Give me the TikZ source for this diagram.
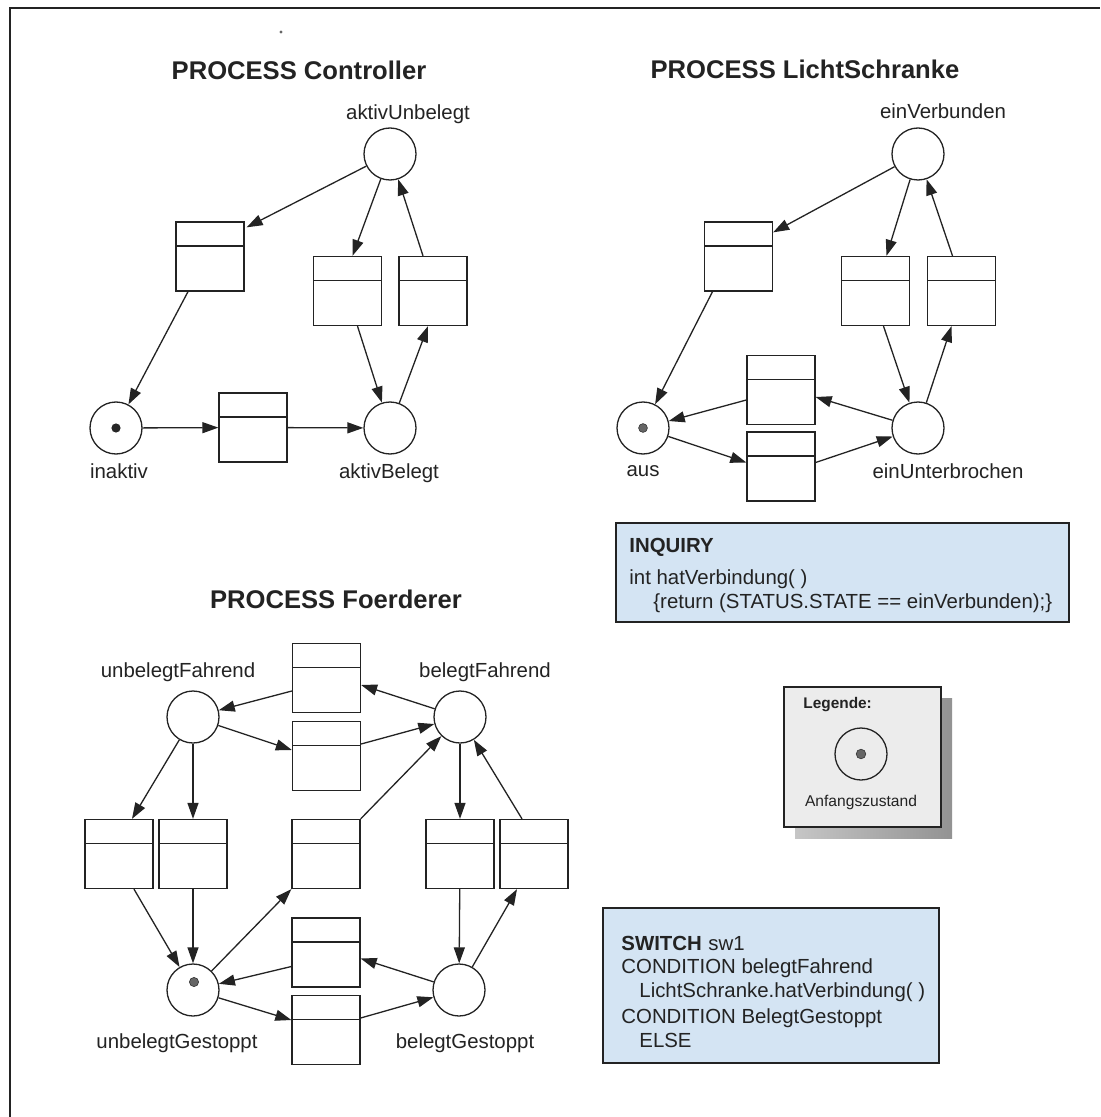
\documentclass[tikz,border=0pt]{standalone}
\usepackage{fontspec}
\setmainfont{Liberation Sans}
\usetikzlibrary{arrows.meta,calc}
\definecolor{ink}{RGB}{35,35,35}
\definecolor{boxblue}{RGB}{212,228,243}
\definecolor{legfill}{RGB}{236,236,236}
\begin{document}
\begin{tikzpicture}[x=0.5pt,y=-0.5pt,
  place/.style={circle,draw=ink,fill=white,line width=0.65pt,minimum size=26pt,inner sep=0pt},
  trans/.style={draw=ink,fill=white,line width=0.65pt,minimum width=34pt,minimum height=34.5pt,inner sep=0pt,
    path picture={\draw[ink,line width=0.65pt] ([yshift=-12pt]path picture bounding box.north west) -- ([yshift=-12pt]path picture bounding box.north east);}},
  arc/.style={draw=ink,line width=0.65pt,-{Triangle[length=8pt,width=5.5pt]}},
  lbl/.style={anchor=base,font=\fontsize{10.2}{12}\selectfont,text=ink,inner sep=0pt},
  ttl/.style={anchor=base,font=\fontsize{12.8}{15}\selectfont\bfseries,text=ink,inner sep=0pt},
  txt/.style={anchor=base west,font=\fontsize{10.2}{12}\selectfont,text=ink,inner sep=0pt},
  tokdark/.style={fill=black!85},
  tokgrey/.style={fill=black!60,draw=black!80,line width=0.3pt},
]
\useasboundingbox (0,0) rectangle (1100,1117);
\fill[white] (0,0) rectangle (1100,1117);
\draw[ink,line width=0.8pt] (10,1117) -- (10,8) -- (1100,8);
\fill[black!60] (281,32) circle (0.8pt);

% ---------------- Controller ----------------
\node[ttl] (tC) at (299,80) {PROCESS Controller};
\node[place] (aU) at (390,154) {};
\node[place] (inaktiv) at (116,428) {};
\node[place] (aB) at (390,428) {};
\node[trans] (T1) at (210,256.5) {};
\node[trans] (T2) at (347.5,291) {};
\node[trans] (T3) at (433,291) {};
\node[trans] (T4) at (253,427.5) {};
\node[lbl] (laU) at (408,120) {aktivUnbelegt};
\node[lbl] (lin) at (119,478) {inaktiv};
\node[lbl] (laB) at (389,478) {aktivBelegt};
\fill[tokdark] (inaktiv.center) circle (2.3pt);

\draw[arc] (aU) -- ($(T1.north east)+(2,6)$);
\draw[arc] (aU) -- ($(T2.north)+(5,0)$);
\draw[arc] ($(T3.north)+(-10,0)$) -- (aU);
\draw[arc] ($(T2.south)+(10,0)$) -- (aB);
\draw[arc] (aB) -- ($(T3.south)+(-5,0)$);
\draw[arc] ($(T1.south)+(-22,0)$) -- (inaktiv);
\draw[arc] (inaktiv) -- (T4);
\draw[arc] (T4) -- (aB);

% ---------------- LichtSchranke ----------------
\node[ttl] (tL) at (805,79) {PROCESS LichtSchranke};
\node[place] (eV) at (918,154) {};
\node[place] (aus) at (643,428) {};
\node[place] (eU) at (918,428) {};
\node[trans] (L1) at (738.5,256.5) {};
\node[trans] (L2) at (875.5,291) {};
\node[trans] (L3) at (961.5,291) {};
\node[trans] (L4) at (781,390) {};
\node[trans] (L5) at (781,466.5) {};
\node[lbl] (leV) at (943,119) {einVerbunden};
\node[lbl] (laus) at (643,476) {aus};
\node[lbl] (leU) at (948,478) {einUnterbrochen};
\fill[tokgrey] (aus.center) circle (2.2pt);

\draw[arc] (eV) -- ($(L1.north east)+(0,11)$);
\draw[arc] (eV) -- ($(L2.north)+(11,0)$);
\draw[arc] ($(L3.north)+(-9,0)$) -- (eV);
\draw[arc] ($(L2.south)+(8,0)$) -- (eU);
\draw[arc] (eU) -- ($(L3.south)+(-10,0)$);
\draw[arc] ($(L1.south)+(-26,0)$) -- (aus);
\draw[arc] (eU) -- ($(L4.east)+(0,7)$);
\draw[arc] ($(L4.west)+(0,10)$) -- (aus);
\draw[arc] (aus) -- ($(L5.west)+(0,-4)$);
\draw[arc] ($(L5.east)+(0,-4)$) -- (eU);

% ---------------- INQUIRY ----------------
\node[draw=ink,fill=boxblue,line width=0.65pt,minimum width=226.5pt,minimum height=49.5pt,inner sep=0pt] (inq) at (842.5,572.5) {};
\node[txt,font=\fontsize{10.2}{12}\selectfont\bfseries] (inq1) at (629,552) {INQUIRY};
\node[txt] (inq2) at (629,584) {int hatVerbindung( )};
\node[txt] (inq3) at (653,608) {\{return (STATUS.STATE == einVerbunden);\}};

% ---------------- Legende ----------------
\fill[left color=gray!45,right color=gray!85] (795,698) rectangle (952,838);
\node[draw=ink,fill=legfill,line width=0.65pt,minimum width=78.5pt,minimum height=70pt,inner sep=0pt] (leg) at (862.5,757) {};
\node[anchor=base west,inner sep=0pt,text=ink,font=\fontsize{7.7}{9}\selectfont\bfseries] (legt) at (803,708) {Legende:};
\node[circle,draw=ink,line width=0.65pt,minimum size=26pt,inner sep=0pt] (legc) at (861,754) {};
\fill[tokgrey] (legc.center) circle (2.4pt);
\node[anchor=base,inner sep=0pt,text=ink,font=\fontsize{7.8}{9}\selectfont] (lega) at (861,806) {Anfangszustand};

% ---------------- Foerderer ----------------
\node[ttl] (tF) at (336,608) {PROCESS Foerderer};
\node[place] (uF) at (193,717) {};
\node[place] (bF) at (460,717) {};
\node[place] (uG) at (193,990) {};
\node[place] (bG) at (459,990) {};
\node[trans] (F1) at (326.5,678) {};
\node[trans] (F2) at (326.5,756) {};
\node[trans] (F3) at (119,854) {};
\node[trans] (F4) at (193,854) {};
\node[trans] (F5) at (326,854) {};
\node[trans] (F6) at (460,854) {};
\node[trans] (F7) at (534,854) {};
\node[trans] (F8) at (326,952.5) {};
\node[trans] (F9) at (326,1030) {};
\node[lbl] (luF) at (178,677) {unbelegtFahrend};
\node[lbl] (lbF) at (485,677) {belegtFahrend};
\node[lbl] (luG) at (177,1048) {unbelegtGestoppt};
\node[lbl] (lbG) at (465,1048) {belegtGestoppt};
\fill[tokgrey] ($(uG.center)+(1,-8)$) circle (2.3pt);

\draw[arc] ($(F1.west)+(0,13)$) -- (uF);
\draw[arc] (bF) -- ($(F1.east)+(0,7)$);
\draw[arc] (uF) -- ($(F2.west)+(0,-6)$);
\draw[arc] ($(F2.east)+(0,-12)$) -- (bF);
\draw[arc] (uF) -- ($(F3.north)+(13,0)$);
\draw[arc] (uF) -- (F4);
\draw[arc] ($(F3.south)+(15,0)$) -- (uG);
\draw[arc] (F4) -- (uG);
\draw[arc] (uG) -- (F5.south west);
\draw[arc] (F5.north east) -- (bF);
\draw[arc] (bF) -- (F6);
\draw[arc] ($(F7.north)+(-12,0)$) -- (bF);
\draw[arc] (F6) -- (bG);
\draw[arc] (bG) -- ($(F7.south)+(-17,0)$);
\draw[arc] ($(F8.west)+(0,14)$) -- (uG);
\draw[arc] (bG) -- ($(F8.east)+(0,6)$);
\draw[arc] (uG) -- ($(F9.west)+(0,-10)$);
\draw[arc] ($(F9.east)+(0,-12)$) -- (bG);

% ---------------- SWITCH ----------------
\node[draw=ink,fill=boxblue,line width=0.65pt,minimum width=168pt,minimum height=77.5pt,inner sep=0pt] (sw) at (771,985.5) {};
\node[txt,font=\fontsize{10.2}{12}\selectfont\bfseries] (sw1) at (621,950) {SWITCH};
\node[txt] (sw2) at (708,950) {sw1};
\node[txt] (sw3) at (621,973) {CONDITION belegtFahrend};
\node[txt] (sw4) at (639,997) {LichtSchranke.hatVerbindung( )};
\node[txt] (sw5) at (621,1023) {CONDITION BelegtGestoppt};
\node[txt] (sw6) at (639,1047) {ELSE};
\end{tikzpicture}
\end{document}
